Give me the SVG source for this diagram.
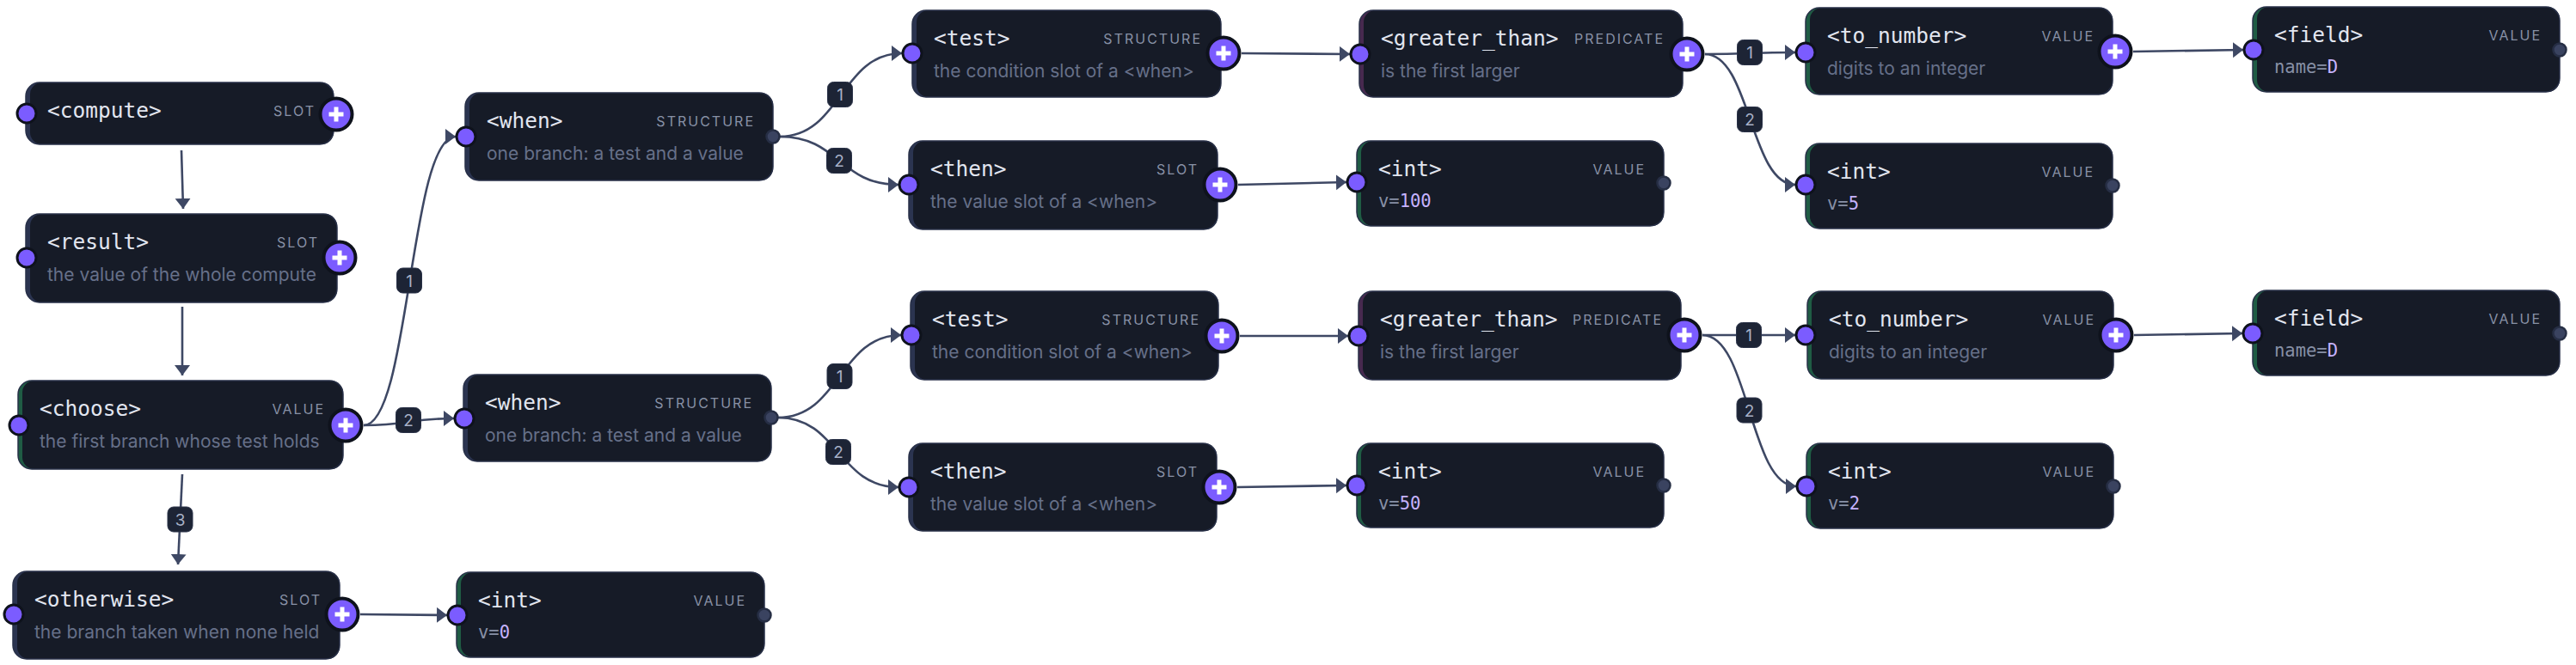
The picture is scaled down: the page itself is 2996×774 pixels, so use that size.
<svg xmlns="http://www.w3.org/2000/svg" width="2996" height="774" viewBox="0 0 2996 774">
<style>
.bg{fill:#ffffff}
.acc-s{fill:#2b3450}
.acc-g{fill:#1f5c44}
.acc-p{fill:#47294f}
.body{fill:#161b27}
.outl{fill:none;stroke:#283048;stroke-width:1.5}
.title{font-family:"DejaVu Sans Mono",monospace;font-size:24.5px;fill:#e2e6f0}
.sub{font-family:Inter,"Noto Sans",sans-serif;font-size:21px;fill:#667089}
.kind{font-family:Inter,"Noto Sans",sans-serif;font-size:16px;letter-spacing:2px;fill:#8891a6;text-anchor:end}
.val{font-family:"DejaVu Sans Mono",monospace;font-size:20.5px;fill:#8790a6}
.num{fill:#c6b3ff}
.inp{fill:#7b5cff;stroke:#0e121c;stroke-width:3}
.plus{fill:#7b5cff;stroke:#0e121c;stroke-width:4}
.pl{stroke:#ffffff;stroke-width:5;stroke-linecap:butt}
.outp{fill:#3a4360;stroke:#262e44;stroke-width:2.5}
.edge{fill:none;stroke:#3e4864;stroke-width:2.6}
.lb{fill:#1d2435;stroke:#2a3248;stroke-width:1}
.lt{font-family:Inter,"Noto Sans",sans-serif;font-size:19px;fill:#a8b1c7;text-anchor:middle}
</style>
<defs>
<marker id="arr" markerUnits="userSpaceOnUse" markerWidth="13" markerHeight="19" refX="12" refY="9" orient="auto">
<path d="M0,0 L12,9 L0,18 z" fill="#3e4864"/>
</marker>
<g id="plusicon"><line class="pl" x1="-8.5" y1="0" x2="8.5" y2="0"/><line class="pl" x1="0" y1="-8.5" x2="0" y2="8.5"/></g>
</defs>
<rect class="bg" x="0" y="0" width="2996" height="774"/>

<g id="connectors">
<path class="edge" d="M211,175 L213,243" marker-end="url(#arr)"/>
<path class="edge" d="M212,357 L212,437" marker-end="url(#arr)"/>
<path class="edge" d="M212,552 L207,657" marker-end="url(#arr)"/>
<path class="edge" d="M423,495 C476.5,495 476.5,159 530,159" marker-end="url(#arr)"/>
<path class="edge" d="M423,495 C475.5,495 475.5,487 528,487" marker-end="url(#arr)"/>
<path class="edge" d="M907,159 C978,159 978,62 1049,62" marker-end="url(#arr)"/>
<path class="edge" d="M907,159 C976,159 976,215 1045,215" marker-end="url(#arr)"/>
<path class="edge" d="M905,486 C976.5,486 976.5,390 1048,390" marker-end="url(#arr)"/>
<path class="edge" d="M905,486 C975,486 975,567 1045,567" marker-end="url(#arr)"/>
<path class="edge" d="M1444,62 L1570,63" marker-end="url(#arr)"/>
<path class="edge" d="M1440,215 L1566,212" marker-end="url(#arr)"/>
<path class="edge" d="M1442,391 L1568,391" marker-end="url(#arr)"/>
<path class="edge" d="M1439,567 L1566,565" marker-end="url(#arr)"/>
<path class="edge" d="M1983,63 C2035.5,63 2035.5,61 2088,61" marker-end="url(#arr)"/>
<path class="edge" d="M1983,63 C2035.5,63 2035.5,215 2088,215" marker-end="url(#arr)"/>
<path class="edge" d="M1980,390 C2034,390 2034,390 2088,390" marker-end="url(#arr)"/>
<path class="edge" d="M1980,390 C2034.5,390 2034.5,566 2089,566" marker-end="url(#arr)"/>
<path class="edge" d="M2481,60 L2609,58" marker-end="url(#arr)"/>
<path class="edge" d="M2482,390 L2608,388" marker-end="url(#arr)"/>
<path class="edge" d="M419,715 L520,716" marker-end="url(#arr)"/>
<g id="edge-labels">
<rect class="lb" x="195" y="590" width="29" height="29" rx="7"/><text class="lt" x="209.5" y="611.5">3</text>
<rect class="lb" x="461.5" y="312" width="29" height="29" rx="7"/><text class="lt" x="476" y="333.5">1</text>
<rect class="lb" x="460.5" y="474.5" width="29" height="29" rx="7"/><text class="lt" x="475" y="496">2</text>
<rect class="lb" x="962.5" y="95.5" width="29" height="29" rx="7"/><text class="lt" x="977" y="117">1</text>
<rect class="lb" x="961.5" y="172.5" width="29" height="29" rx="7"/><text class="lt" x="976" y="194">2</text>
<rect class="lb" x="962" y="423.5" width="29" height="29" rx="7"/><text class="lt" x="976.5" y="445">1</text>
<rect class="lb" x="960.5" y="511.5" width="29" height="29" rx="7"/><text class="lt" x="975" y="533">2</text>
<rect class="lb" x="2020.5" y="46.5" width="29" height="29" rx="7"/><text class="lt" x="2035" y="68">1</text>
<rect class="lb" x="2020.5" y="124.5" width="29" height="29" rx="7"/><text class="lt" x="2035" y="146">2</text>
<rect class="lb" x="2019.5" y="375.5" width="29" height="29" rx="7"/><text class="lt" x="2034" y="397">1</text>
<rect class="lb" x="2020" y="463" width="29" height="29" rx="7"/><text class="lt" x="2034.5" y="484.5">2</text>
</g>
</g>

<g id="n-compute">
<rect class="acc-s" x="30" y="96" width="358" height="72" rx="16"/><rect class="body" x="35" y="96" width="353" height="72" rx="14"/><rect class="outl" x="30" y="96" width="358" height="72" rx="16"/>
<text class="title" x="55" y="137">&lt;compute&gt;</text>
<text class="kind" x="367" y="135">SLOT</text>
<circle class="inp" cx="31" cy="132" r="11"/>
<circle class="plus" cx="391" cy="133" r="18.5"/><use href="#plusicon" x="391" y="133"/>
</g>

<g id="n-result">
<rect class="acc-s" x="30" y="249" width="362" height="103" rx="16"/><rect class="body" x="35" y="249" width="357" height="103" rx="14"/><rect class="outl" x="30" y="249" width="362" height="103" rx="16"/>
<text class="title" x="55" y="290">&lt;result&gt;</text>
<text class="kind" x="371" y="288">SLOT</text>
<text class="sub" x="55" y="327">the value of the whole compute</text>
<circle class="inp" cx="31" cy="300" r="11"/>
<circle class="plus" cx="395" cy="300" r="18.5"/><use href="#plusicon" x="395" y="300"/>
</g>

<g id="n-choose">
<rect class="acc-g" x="21" y="443" width="378" height="103" rx="16"/><rect class="body" x="26" y="443" width="373" height="103" rx="14"/><rect class="outl" x="21" y="443" width="378" height="103" rx="16"/>
<text class="title" x="46" y="484">&lt;choose&gt;</text>
<text class="kind" x="378" y="482">VALUE</text>
<text class="sub" x="46" y="521">the first branch whose test holds</text>
<circle class="inp" cx="22" cy="495" r="11"/>
<circle class="plus" cx="402" cy="495" r="18.5"/><use href="#plusicon" x="402" y="495"/>
</g>

<g id="n-otherwise">
<rect class="acc-s" x="15" y="665" width="380" height="102" rx="16"/><rect class="body" x="20" y="665" width="375" height="102" rx="14"/><rect class="outl" x="15" y="665" width="380" height="102" rx="16"/>
<text class="title" x="40" y="706">&lt;otherwise&gt;</text>
<text class="kind" x="374" y="704">SLOT</text>
<text class="sub" x="40" y="743">the branch taken when none held</text>
<circle class="inp" cx="16" cy="715" r="11"/>
<circle class="plus" cx="398" cy="715" r="18.5"/><use href="#plusicon" x="398" y="715"/>
</g>

<g id="n-int0">
<rect class="acc-g" x="531" y="666" width="358" height="99" rx="16"/><rect class="body" x="536" y="666" width="353" height="99" rx="14"/><rect class="outl" x="531" y="666" width="358" height="99" rx="16"/>
<text class="title" x="556" y="707">&lt;int&gt;</text>
<text class="kind" x="868" y="705">VALUE</text>
<text class="val" x="556" y="743">v=<tspan class="num">0</tspan></text>
<circle class="inp" cx="532" cy="716" r="11"/>
<circle class="outp" cx="889" cy="716" r="7.5"/>
</g>

<g id="n-when1">
<rect class="acc-s" x="541" y="108" width="358" height="102" rx="16"/><rect class="body" x="546" y="108" width="353" height="102" rx="14"/><rect class="outl" x="541" y="108" width="358" height="102" rx="16"/>
<text class="title" x="566" y="149">&lt;when&gt;</text>
<text class="kind" x="878" y="147">STRUCTURE</text>
<text class="sub" x="566" y="186">one branch: a test and a value</text>
<circle class="inp" cx="542" cy="159" r="11"/>
<circle class="outp" cx="899" cy="159" r="7.5"/>
</g>

<g id="n-when2">
<rect class="acc-s" x="539" y="436" width="358" height="101" rx="16"/><rect class="body" x="544" y="436" width="353" height="101" rx="14"/><rect class="outl" x="539" y="436" width="358" height="101" rx="16"/>
<text class="title" x="564" y="477">&lt;when&gt;</text>
<text class="kind" x="876" y="475">STRUCTURE</text>
<text class="sub" x="564" y="514">one branch: a test and a value</text>
<circle class="inp" cx="540" cy="487" r="11"/>
<circle class="outp" cx="897" cy="486" r="7.5"/>
</g>

<g id="n-test1">
<rect class="acc-s" x="1061" y="12" width="359" height="101" rx="16"/><rect class="body" x="1066" y="12" width="354" height="101" rx="14"/><rect class="outl" x="1061" y="12" width="359" height="101" rx="16"/>
<text class="title" x="1086" y="53">&lt;test&gt;</text>
<text class="kind" x="1398" y="51">STRUCTURE</text>
<text class="sub" x="1086" y="90">the condition slot of a &lt;when&gt;</text>
<circle class="inp" cx="1061" cy="62" r="11"/>
<circle class="plus" cx="1423" cy="62" r="18.5"/><use href="#plusicon" x="1423" y="62"/>
</g>

<g id="n-then1">
<rect class="acc-s" x="1057" y="164" width="359" height="103" rx="16"/><rect class="body" x="1062" y="164" width="354" height="103" rx="14"/><rect class="outl" x="1057" y="164" width="359" height="103" rx="16"/>
<text class="title" x="1082" y="205">&lt;then&gt;</text>
<text class="kind" x="1394" y="203">SLOT</text>
<text class="sub" x="1082" y="242">the value slot of a &lt;when&gt;</text>
<circle class="inp" cx="1057" cy="215" r="11"/>
<circle class="plus" cx="1419" cy="215" r="18.5"/><use href="#plusicon" x="1419" y="215"/>
</g>

<g id="n-test2">
<rect class="acc-s" x="1059" y="339" width="358" height="103" rx="16"/><rect class="body" x="1064" y="339" width="353" height="103" rx="14"/><rect class="outl" x="1059" y="339" width="358" height="103" rx="16"/>
<text class="title" x="1084" y="380">&lt;test&gt;</text>
<text class="kind" x="1396" y="378">STRUCTURE</text>
<text class="sub" x="1084" y="417">the condition slot of a &lt;when&gt;</text>
<circle class="inp" cx="1060" cy="390" r="11"/>
<circle class="plus" cx="1421" cy="391" r="18.5"/><use href="#plusicon" x="1421" y="391"/>
</g>

<g id="n-then2">
<rect class="acc-s" x="1057" y="516" width="358" height="102" rx="16"/><rect class="body" x="1062" y="516" width="353" height="102" rx="14"/><rect class="outl" x="1057" y="516" width="358" height="102" rx="16"/>
<text class="title" x="1082" y="557">&lt;then&gt;</text>
<text class="kind" x="1394" y="555">SLOT</text>
<text class="sub" x="1082" y="594">the value slot of a &lt;when&gt;</text>
<circle class="inp" cx="1057" cy="567" r="11"/>
<circle class="plus" cx="1418" cy="567" r="18.5"/><use href="#plusicon" x="1418" y="567"/>
</g>

<g id="n-gt1">
<rect class="acc-p" x="1581" y="12" width="376" height="101" rx="16"/><rect class="body" x="1586" y="12" width="371" height="101" rx="14"/><rect class="outl" x="1581" y="12" width="376" height="101" rx="16"/>
<text class="title" x="1606" y="53">&lt;greater_than&gt;</text>
<text class="kind" x="1936" y="51">PREDICATE</text>
<text class="sub" x="1606" y="90">is the first larger</text>
<circle class="inp" cx="1582" cy="63" r="11"/>
<circle class="plus" cx="1962" cy="63" r="18.5"/><use href="#plusicon" x="1962" y="63"/>
</g>

<g id="n-int100">
<rect class="acc-g" x="1578" y="164" width="357" height="99" rx="16"/><rect class="body" x="1583" y="164" width="352" height="99" rx="14"/><rect class="outl" x="1578" y="164" width="357" height="99" rx="16"/>
<text class="title" x="1603" y="205">&lt;int&gt;</text>
<text class="kind" x="1914" y="203">VALUE</text>
<text class="val" x="1603" y="241">v=<tspan class="num">100</tspan></text>
<circle class="inp" cx="1578" cy="212" r="11"/>
<circle class="outp" cx="1935" cy="213" r="7.5"/>
</g>

<g id="n-gt2">
<rect class="acc-p" x="1580" y="339" width="375" height="103" rx="16"/><rect class="body" x="1585" y="339" width="370" height="103" rx="14"/><rect class="outl" x="1580" y="339" width="375" height="103" rx="16"/>
<text class="title" x="1605" y="380">&lt;greater_than&gt;</text>
<text class="kind" x="1934" y="378">PREDICATE</text>
<text class="sub" x="1605" y="417">is the first larger</text>
<circle class="inp" cx="1580" cy="391" r="11"/>
<circle class="plus" cx="1959" cy="390" r="18.5"/><use href="#plusicon" x="1959" y="390"/>
</g>

<g id="n-int50">
<rect class="acc-g" x="1578" y="516" width="357" height="98" rx="16"/><rect class="body" x="1583" y="516" width="352" height="98" rx="14"/><rect class="outl" x="1578" y="516" width="357" height="98" rx="16"/>
<text class="title" x="1603" y="557">&lt;int&gt;</text>
<text class="kind" x="1914" y="555">VALUE</text>
<text class="val" x="1603" y="593">v=<tspan class="num">50</tspan></text>
<circle class="inp" cx="1578" cy="565" r="11"/>
<circle class="outp" cx="1935" cy="565" r="7.5"/>
</g>

<g id="n-tonumber1">
<rect class="acc-g" x="2100" y="9" width="357" height="101" rx="16"/><rect class="body" x="2105" y="9" width="352" height="101" rx="14"/><rect class="outl" x="2100" y="9" width="357" height="101" rx="16"/>
<text class="title" x="2125" y="50">&lt;to_number&gt;</text>
<text class="kind" x="2436" y="48">VALUE</text>
<text class="sub" x="2125" y="87">digits to an integer</text>
<circle class="inp" cx="2100" cy="61" r="11"/>
<circle class="plus" cx="2460" cy="60" r="18.5"/><use href="#plusicon" x="2460" y="60"/>
</g>

<g id="n-int5">
<rect class="acc-g" x="2100" y="167" width="357" height="99" rx="16"/><rect class="body" x="2105" y="167" width="352" height="99" rx="14"/><rect class="outl" x="2100" y="167" width="357" height="99" rx="16"/>
<text class="title" x="2125" y="208">&lt;int&gt;</text>
<text class="kind" x="2436" y="206">VALUE</text>
<text class="val" x="2125" y="244">v=<tspan class="num">5</tspan></text>
<circle class="inp" cx="2100" cy="215" r="11"/>
<circle class="outp" cx="2457" cy="216" r="7.5"/>
</g>

<g id="n-tonumber2">
<rect class="acc-g" x="2102" y="339" width="356" height="102" rx="16"/><rect class="body" x="2107" y="339" width="351" height="102" rx="14"/><rect class="outl" x="2102" y="339" width="356" height="102" rx="16"/>
<text class="title" x="2127" y="380">&lt;to_number&gt;</text>
<text class="kind" x="2437" y="378">VALUE</text>
<text class="sub" x="2127" y="417">digits to an integer</text>
<circle class="inp" cx="2100" cy="390" r="11"/>
<circle class="plus" cx="2461" cy="390" r="18.5"/><use href="#plusicon" x="2461" y="390"/>
</g>

<g id="n-int2">
<rect class="acc-g" x="2101" y="516" width="357" height="99" rx="16"/><rect class="body" x="2106" y="516" width="352" height="99" rx="14"/><rect class="outl" x="2101" y="516" width="357" height="99" rx="16"/>
<text class="title" x="2126" y="557">&lt;int&gt;</text>
<text class="kind" x="2437" y="555">VALUE</text>
<text class="val" x="2126" y="593">v=<tspan class="num">2</tspan></text>
<circle class="inp" cx="2101" cy="566" r="11"/>
<circle class="outp" cx="2458" cy="566" r="7.5"/>
</g>

<g id="n-field1">
<rect class="acc-g" x="2620" y="8" width="357" height="99" rx="16"/><rect class="body" x="2625" y="8" width="352" height="99" rx="14"/><rect class="outl" x="2620" y="8" width="357" height="99" rx="16"/>
<text class="title" x="2645" y="49">&lt;field&gt;</text>
<text class="kind" x="2956" y="47">VALUE</text>
<text class="val" x="2645" y="85">name=<tspan class="num">D</tspan></text>
<circle class="inp" cx="2621" cy="58" r="11"/>
<circle class="outp" cx="2977" cy="58" r="7.5"/>
</g>

<g id="n-field2">
<rect class="acc-g" x="2620" y="338" width="357" height="99" rx="16"/><rect class="body" x="2625" y="338" width="352" height="99" rx="14"/><rect class="outl" x="2620" y="338" width="357" height="99" rx="16"/>
<text class="title" x="2645" y="379">&lt;field&gt;</text>
<text class="kind" x="2956" y="377">VALUE</text>
<text class="val" x="2645" y="415">name=<tspan class="num">D</tspan></text>
<circle class="inp" cx="2620" cy="388" r="11"/>
<circle class="outp" cx="2977" cy="388" r="7.5"/>
</g>
</svg>
